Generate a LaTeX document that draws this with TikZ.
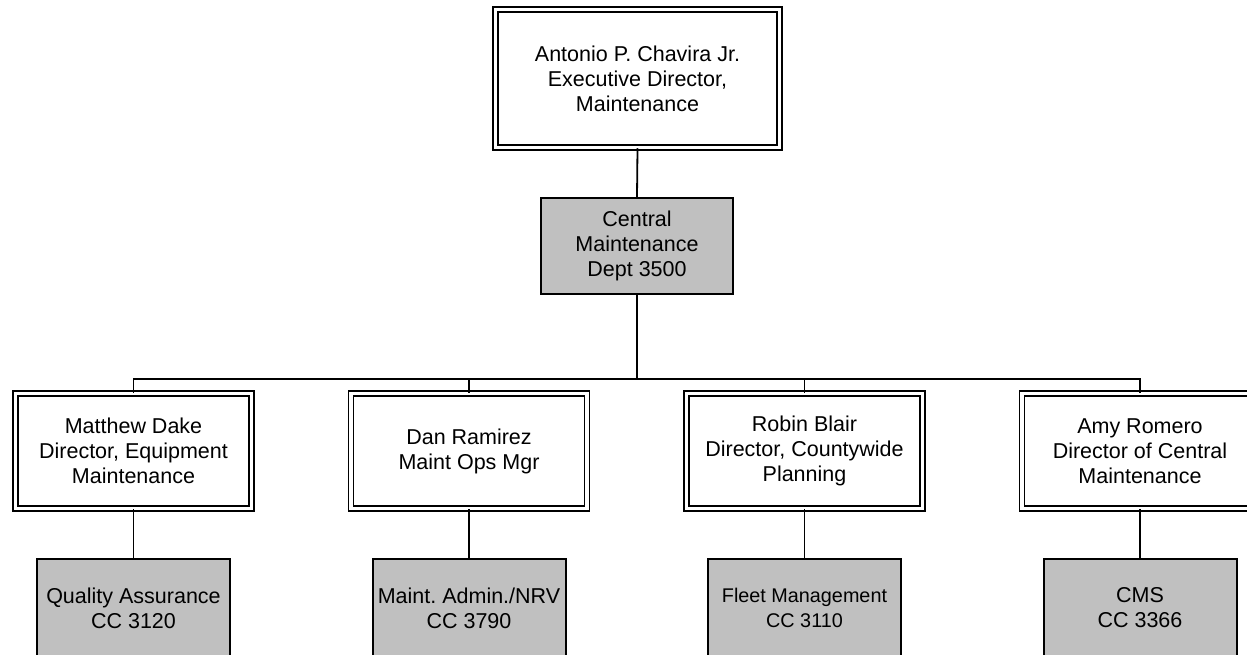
\documentclass[tikz,border=0pt]{standalone}
\usepackage{fontspec}
\setmainfont{Liberation Sans}
\frenchspacing
\begin{document}
\begin{tikzpicture}[x=1pt,y=-1pt,
  every node/.style={inner sep=0pt, align=center, font=\fontsize{21.5}{25}\selectfont},
  dbox/.style={draw=black, line width=1.5pt, double=white, double distance=3.2pt, rectangle},
  topbox/.style={dbox, minimum width=284pt, minimum height=138pt},
  mgrbox/.style={dbox, minimum width=236pt, minimum height=115pt},
  gbox/.style={draw=black, line width=2pt, rectangle},
  cbox/.style={gbox, minimum width=192pt, minimum height=96pt},
  ccbox/.style={gbox, minimum width=193pt, minimum height=98pt},
  conn/.style={draw=black, line width=1.8pt}
]
\definecolor{boxgray}{RGB}{192,192,192}
\tikzset{gbox/.append style={fill=boxgray}}
\useasboundingbox (0,0) rectangle (1247,655);

\node[topbox] (exec) at (637.5,78.5) {Antonio P. Chavira Jr.\\Executive Director,\\Maintenance};
\node[cbox] (central) at (637,246) {Central\\Maintenance\\Dept 3500};

\node[mgrbox] (m1) at (133.5,451) {Matthew Dake\\Director, Equipment\\Maintenance};
\node[mgrbox] (m2) at (469,451) {Dan Ramirez\\Maint Ops Mgr};
\node[mgrbox] (m3) at (804.5,451) {Robin Blair\\Director, Countywide\\Planning};
\node[mgrbox] (m4) at (1140,451) {Amy Romero\\Director of Central\\Maintenance};

\node[ccbox] (c1) at (133.5,608) {Quality Assurance\\CC 3120};
\node[ccbox] (c2) at (469,608) {Maint. Admin./NRV\\CC 3790};
\node[ccbox, font=\fontsize{19.8}{25}\selectfont] (c3) at (804.5,608) {Fleet Management\\CC 3110};
\node[ccbox] (c4) at (1140,608) {CMS\\CC 3366};

\coordinate (bus) at (637,379);

\draw[conn] (exec.south) -- (central.north);
\draw[conn] (central.south) -- (bus);
\draw[conn] (m1.north) |- (bus) -| (m4.north);
\draw[conn] (m2.north) -- (m2.north |- bus);
\draw[conn] (m3.north) -- (m3.north |- bus);

\draw[conn] (m1.south) -- (c1.north);
\draw[conn] (m2.south) -- (c2.north);
\draw[conn] (m3.south) -- (c3.north);
\draw[conn] (m4.south) -- (c4.north);
\end{tikzpicture}
\end{document}
